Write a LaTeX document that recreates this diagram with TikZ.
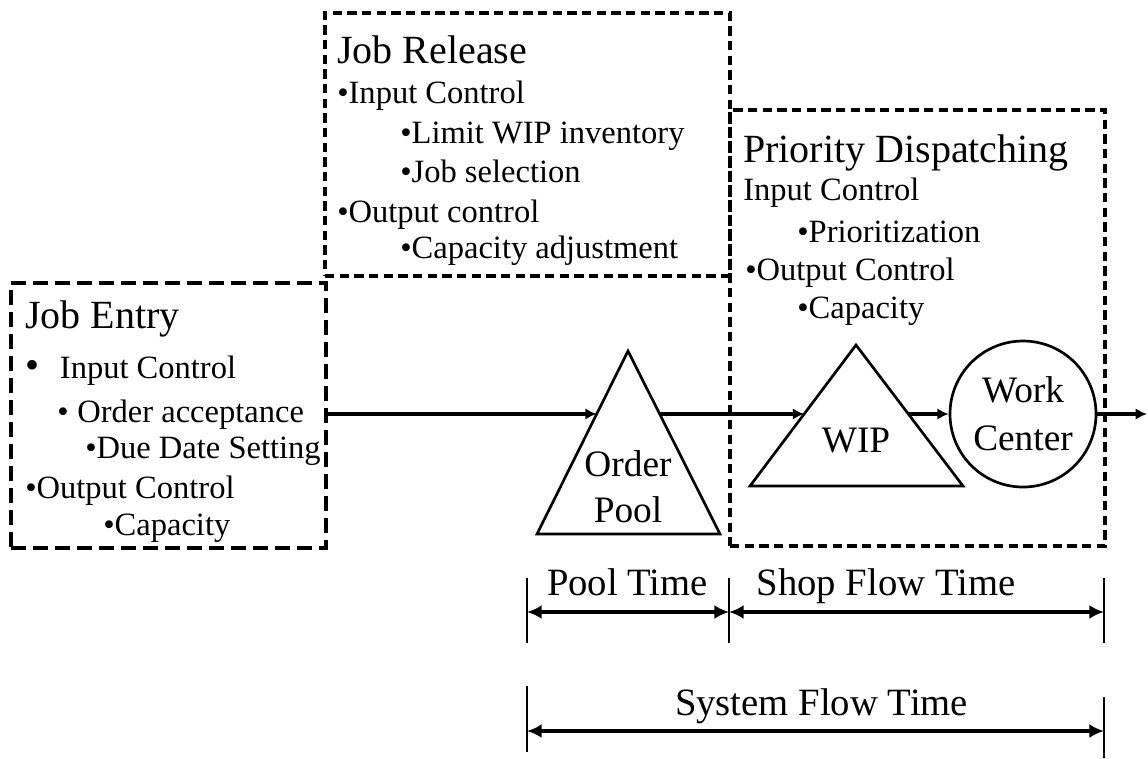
\documentclass[tikz,border=0pt]{standalone}
\usepackage{fontspec}
\setmainfont{Liberation Serif}
\usetikzlibrary{arrows.meta,calc,fit}

\tikzset{
	jebox/.style = {draw, line width = 2.8pt, dash pattern = on 11pt off 5.5pt, inner sep = 0},
	stagebox/.style = {draw, line width = 2.3pt, dash pattern = on 7pt off 4pt, inner sep = 0},
	boxtitle/.style = {anchor = base west, inner sep = 0, font = \fontsize{30}{36}\selectfont},
	boxitem/.style = {anchor = base west, inner sep = 0, font = \fontsize{24.4}{29}\selectfont},
	shapetext/.style = {inner sep = 0, align = center, font = \fontsize{28}{34.5}\selectfont},
	pooledge/.style = {line width = 2pt, line join = miter},
	flow/.style = {line width = 2.8pt, -{Latex[length = 8.5pt, width = 8.5pt]}},
	tickline/.style = {line width = 2.2pt},
	spanline/.style = {line width = 3pt, {Latex[length = 11pt, width = 10.5pt]}-{Latex[length = 11pt, width = 10.5pt]}},
	spantext/.style = {anchor = base, inner sep = 0, font = \fontsize{29}{35}\selectfont}
}

\begin{document}
\begin{tikzpicture}[x = 0.75pt, y = -0.75pt]

	\useasboundingbox (0, 0) rectangle (1148, 758);

	% Dashed stage boxes
	
	\node [jebox, fit = {(11, 283) (326, 548)}] (je) {};
	\node [stagebox, fit = {(325, 13) (730, 276)}] (jr) {};
	\node [stagebox, fit = {(730, 110) (1105, 546)}] (pd) {};
	
	% Job entry text
	
	\node [boxtitle] (jeTitle) at (25, 328) {Job Entry};
	\node [boxitem] (je1) at (25, 378) {{\fontsize{30}{30}\selectfont\textbullet}\hspace{15.5pt}Input Control};
	\node [boxitem] (je2) at (57, 422) {\textbullet\hspace{6.5pt}Order acceptance};
	\node [boxitem] (je3) at (85, 458) {\textbullet Due Date Setting};
	\node [boxitem] (je4) at (25, 498) {\textbullet Output Control};
	\node [boxitem] (je5) at (103, 535) {\textbullet Capacity};
	
	% Job release text
	
	\node [boxtitle] (jrTitle) at (337, 63) {Job Release};
	\node [boxitem] (jr1) at (337, 103) {\textbullet Input Control};
	\node [boxitem] (jr2) at (400, 143) {\textbullet Limit WIP inventory};
	\node [boxitem] (jr3) at (400, 182) {\textbullet Job selection};
	\node [boxitem] (jr4) at (337, 222) {\textbullet Output control};
	\node [boxitem] (jr5) at (400, 258) {\textbullet Capacity adjustment};
	
	% Priority dispatching text
	
	\node [boxtitle] (pdTitle) at (743, 162) {Priority Dispatching};
	\node [boxitem] (pd1) at (743, 200) {Input Control};
	\node [boxitem] (pd2) at (797, 242) {\textbullet Prioritization};
	\node [boxitem] (pd3) at (745, 280) {\textbullet Output Control};
	\node [boxitem] (pd4) at (797, 318) {\textbullet Capacity};
	
	% Order pool and WIP triangles
	
	\coordinate (opTop) at (628, 351);
	\coordinate (opLeft) at (537, 534);
	\coordinate (opRight) at (720, 534);
	\draw [pooledge] (opTop) -- (opRight) -- (opLeft) -- cycle;
	\node [shapetext] (op) at (628, 487) {Order\\Pool};
	
	\coordinate (wipTop) at (856, 345);
	\coordinate (wipLeft) at (750, 486);
	\coordinate (wipRight) at (963, 486);
	\draw [pooledge] (wipTop) -- (wipRight) -- (wipLeft) -- cycle;
	\node [shapetext, anchor = base] (wip) at (856, 452) {WIP};
	
	% Work center
	
	\node [circle, draw, line width = 2pt, minimum size = 109.5pt, shapetext, font = \fontsize{28}{36}\selectfont] (wc) at (1023, 414) {Work\\Center};
	
	% Job flow
	
	\coordinate (jeOut) at (326, 414);
	\coordinate (opIn) at ($(opTop)!0.344!(opLeft)$);
	\coordinate (opOut) at ($(opTop)!0.344!(opRight)$);
	\coordinate (wipIn) at ($(wipTop)!0.489!(wipLeft)$);
	\coordinate (wipOut) at ($(wipTop)!0.489!(wipRight)$);
	\coordinate (exit) at (1147, 414);
	
	\draw [flow] (jeOut) -- (opIn);
	\draw [flow] (opOut) -- (wipIn);
	\draw [flow] (wipOut) -- (wc.west);
	\draw [flow] (wc.east) -- (exit);
	
	% Time spans
	
	\coordinate (poolStart) at (527, 612);
	\coordinate (shopStart) at (729, 612);
	\coordinate (shopEnd) at (1104, 612);
	\coordinate (sysStart) at (527, 731);
	\coordinate (sysEnd) at (1104, 731);
	
	\draw [tickline] (527, 578) -- (527, 643);
	\draw [tickline] (729, 578) -- (729, 643);
	\draw [tickline] (1104, 578) -- (1104, 643);
	\draw [tickline] (527, 686) -- (527, 752);
	\draw [tickline] (1104, 697) -- (1104, 758);
	
	\draw [spanline] (poolStart) -- (shopStart);
	\draw [spanline] (shopStart) -- (shopEnd);
	\draw [spanline] (sysStart) -- (sysEnd);
	
	\node [spantext] (poolTime) at (627.5, 595) {Pool Time};
	\node [spantext] (shopTime) at (886, 595) {Shop Flow Time};
	\node [spantext] (sysTime) at (821.5, 715) {System Flow Time};

\end{tikzpicture}
\end{document}
